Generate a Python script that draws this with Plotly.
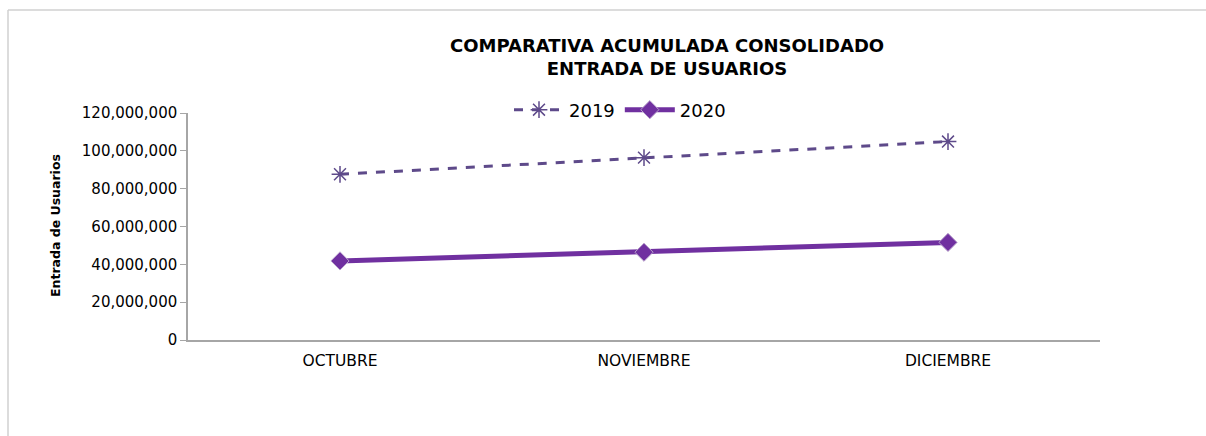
import plotly.graph_objects as go

months = ["OCTUBRE", "NOVIEMBRE", "DICIEMBRE"]
v2019 = [87600000, 96400000, 104900000]
v2020 = [41800000, 46400000, 51600000]
tick_vals = [0, 20000000, 40000000, 60000000, 80000000, 100000000, 120000000]

W, H = 1206, 436
L, R, T, B = 188, 106, 113, 96
pw, ph = W - L - R, H - T - B

def px_x(x):
    return (x - L) / pw

def px_y(y):
    return (H - B - y) / ph

fig = go.Figure()
fig.add_trace(go.Scatter(
    x=months, y=v2019, name="2019", mode="lines+markers",
    line=dict(color="#5E4A8A", width=3, dash="dash"),
    marker=dict(symbol="asterisk-open", size=14, color="#5E4A8A",
                line=dict(color="#5E4A8A", width=1.5)),
))
fig.add_trace(go.Scatter(
    x=months, y=v2020, name="2020", mode="lines+markers",
    line=dict(color="#7030A0", width=5),
    marker=dict(symbol="diamond", size=14, color="#7030A0",
                line=dict(color="#B9A3CC", width=1)),
))

fig.update_layout(
    width=W, height=H,
    margin=dict(l=L, r=R, t=T, b=B),
    paper_bgcolor="white", plot_bgcolor="white",
    font=dict(family="DejaVu Sans", size=14, color="#000000"),
    showlegend=True,
    legend=dict(orientation="h", x=px_x(620), y=px_y(110), xanchor="center",
                yanchor="middle", font=dict(size=18, family="DejaVu Sans"),
                bgcolor="rgba(0,0,0,0)", itemwidth=50, tracegroupgap=0),
    xaxis=dict(type="category", showgrid=False, showline=True,
               linecolor="#A6A6A6", linewidth=1.5, ticks="",
               tickfont=dict(size=15.5), range=[-0.5, 2.5], fixedrange=True,
               ticklabelstandoff=6),
    yaxis=dict(range=[0, 120000000], tickvals=tick_vals, tickformat=",d",
               showgrid=False, showline=True, linecolor="#A6A6A6",
               linewidth=1.5, ticks="outside", ticklen=6, tickcolor="#A6A6A6",
               tickfont=dict(size=15), zeroline=False),
    annotations=[
        dict(text="<b>COMPARATIVA ACUMULADA CONSOLIDADO</b><br><b>ENTRADA DE USUARIOS</b>",
             xref="paper", yref="paper", x=px_x(667), y=px_y(57),
             xanchor="center", yanchor="middle", showarrow=False,
             font=dict(size=18, family="DejaVu Sans"), align="center"),
        dict(text="<b>Entrada de Usuarios</b>", textangle=-90,
             xref="paper", yref="paper", x=px_x(55), y=px_y(226),
             xanchor="center", yanchor="middle", showarrow=False,
             font=dict(size=12.5, family="DejaVu Sans")),
    ],
    shapes=[
        dict(type="line", xref="paper", yref="paper",
             x0=px_x(8), x1=px_x(1206), y0=px_y(10), y1=px_y(10),
             line=dict(color="#D0D0D0", width=1.5)),
        dict(type="line", xref="paper", yref="paper",
             x0=px_x(8), x1=px_x(8), y0=px_y(10), y1=px_y(436),
             line=dict(color="#D0D0D0", width=1.5)),
    ],
)

fig.write_html("out.html", config={"displayModeBar": False},
               post_script="document.body.style.margin='0';document.body.style.padding='0';")
